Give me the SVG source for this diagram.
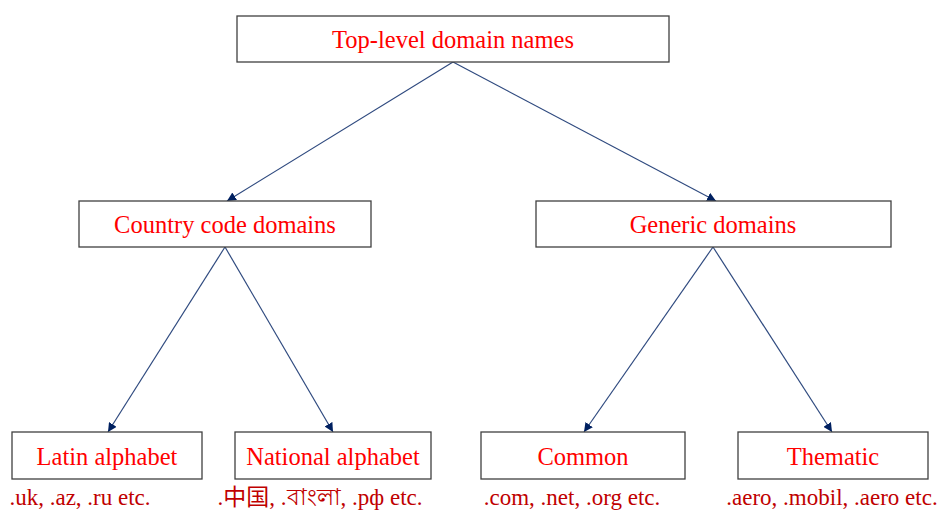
<svg xmlns="http://www.w3.org/2000/svg" width="940" height="510" viewBox="0 0 940 510">
  <style>
    .box { fill: #ffffff; stroke: #404040; stroke-width: 1.3; }
    .lbl { font-family: "Liberation Serif", "Times New Roman", serif; font-size: 24.5px; fill: #ff0000; text-anchor: middle; }
    .ex { font-family: "Liberation Serif", "Times New Roman", "Noto Sans CJK SC", serif; font-size: 23px; fill: #c00000; text-anchor: middle; }
    .edge { stroke: #2f4a7f; stroke-width: 1.2; fill: none; marker-end: url(#arr); }
  </style>
  <defs>
    <marker id="arr" viewBox="0 0 10 10" refX="10" refY="5" markerWidth="9" markerHeight="9" markerUnits="userSpaceOnUse" orient="auto">
      <path d="M0,0 L10,5 L0,10 Z" fill="#002060"/>
    </marker>
  </defs>

  <g id="connectors">
    <line class="edge" x1="453" y1="62" x2="227" y2="201"/>
    <line class="edge" x1="453" y1="62" x2="716" y2="201"/>
    <line class="edge" x1="225" y1="247" x2="108" y2="432"/>
    <line class="edge" x1="225" y1="247" x2="333" y2="432"/>
    <line class="edge" x1="713" y1="247" x2="584" y2="432"/>
    <line class="edge" x1="713" y1="247" x2="832" y2="432"/>
  </g>

  <g id="top-level">
    <rect class="box" x="237" y="16" width="432" height="46"/>
    <text class="lbl" x="453" y="48">Top-level domain names</text>
  </g>

  <g id="country-code">
    <rect class="box" x="79" y="201" width="292" height="46"/>
    <text class="lbl" x="225" y="233">Country code domains</text>
  </g>

  <g id="generic">
    <rect class="box" x="536" y="201" width="355" height="46"/>
    <text class="lbl" x="713" y="233">Generic domains</text>
  </g>

  <g id="latin">
    <rect class="box" x="12" y="432" width="190" height="47"/>
    <text class="lbl" x="107" y="465">Latin alphabet</text>
    <text class="ex" x="80" y="505">.uk, .az, .ru etc.</text>
  </g>

  <g id="national">
    <rect class="box" x="235" y="432" width="196" height="47"/>
    <text class="lbl" x="333" y="465">National alphabet</text>
    <text class="ex" x="320" y="505">.中国, .বাংলা, .рф etc.</text>
  </g>

  <g id="common">
    <rect class="box" x="481" y="432" width="204" height="47"/>
    <text class="lbl" x="583" y="465">Common</text>
    <text class="ex" x="572" y="505">.com, .net, .org etc.</text>
  </g>

  <g id="thematic">
    <rect class="box" x="738" y="432" width="190" height="47"/>
    <text class="lbl" x="833" y="465">Thematic</text>
    <text class="ex" x="832" y="505">.aero, .mobil, .aero etc.</text>
  </g>
</svg>
